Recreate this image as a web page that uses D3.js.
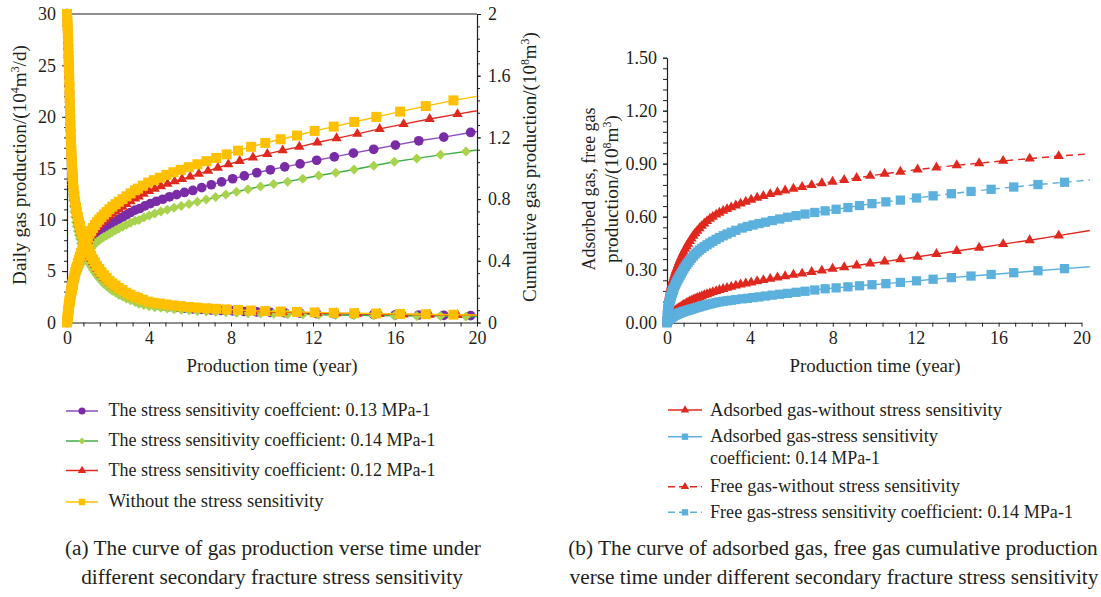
<!DOCTYPE html>
<html><head><meta charset="utf-8">
<script src="https://cdn.jsdelivr.net/npm/d3@7"></script>
<style>
body{margin:0;background:#fff}
svg{display:block}
text{font-family:"Liberation Serif","Times New Roman",serif;fill:#231f20}
</style>
</head><body>
<svg id="c" width="1101" height="597"></svg>
<script>
// ---------------- DATA ----------------
// shared early time steps (years)
const timeEarly = [0,0.01,0.02,0.03,0.04,0.05,0.06,0.07,0.08,0.09,0.10,
0.11,0.12,0.13,0.14,0.15,0.16,0.17,0.18,0.19,0.20,
0.21,0.22,0.23,0.24,0.25,0.26,0.27,0.28,0.29,0.30,
0.33,0.36,0.40,0.44,0.48,0.53,0.58,0.63,0.69,0.75,
0.81,0.88,0.95,1.02,1.10,1.18,1.27,1.36,1.46,1.57,
1.68,1.80,1.93,2.07,2.21,2.37,2.53,2.71,2.90,3.10,
3.32];
// later time steps of each case (years)
const timeLateNoStress = [3.46,3.70,3.96,4.24,4.53,4.85,5.19,5.55,5.94,6.36,6.81,7.28,7.79,8.34,8.98,9.67,10.42,11.22,12.08,13.01,14.01,15.09,16.25,17.50,18.85,20.3];
const timeLate012 = [3.50,3.74,4.00,4.28,4.58,4.90,5.25,5.61,6.01,6.43,6.88,7.36,7.87,8.42,9.07,9.77,10.52,11.33,12.21,13.15,14.16,15.25,16.42,17.69,19.05,20.5];
const timeLate013 = [3.55,3.80,4.07,4.36,4.67,5.00,5.35,5.73,6.14,6.57,7.04,7.54,8.08,8.65,9.26,9.92,10.62,11.37,12.18,13.04,13.97,14.96,16.02,17.16,18.38,19.69,21.1];
const timeLate014 = [3.51,3.75,4.01,4.28,4.58,4.89,5.22,5.57,5.95,6.36,6.79,7.25,7.75,8.27,8.83,9.44,10.08,10.76,11.50,12.28,13.11,14.00,14.96,15.97,17.06,18.22,19.46,20.8];
const timeLateGasNoStress = [3.55,3.80,4.06,4.35,4.65,4.98,5.33,5.70,6.10,6.52,6.98,7.47,7.99,8.55,9.15,9.80,10.5,11.26,12.09,13.0,13.98,15.06,16.22,17.5,18.9,20.4];
const timeLateGas014 = [3.63,3.88,4.15,4.44,4.75,5.08,5.44,5.82,6.23,6.66,7.13,7.63,8.16,8.73,9.29,9.89,10.56,11.26,12.04,12.84,13.72,14.67,15.64,16.73,17.9,19.18,20.4];

// (a) daily gas production, 10^4 m3/d
const dailyNoStress = [30,29.6,29.2,28.8,28.3,27.8,27.3,26.6,25.9,25.2,24.5,
23.7,22.9,22.1,21.3,20.5,19.8,19.2,18.5,17.9,17.3,
16.8,16.3,15.8,15.4,15.0,14.7,14.4,14.1,13.8,13.5,
12.9,12.35,11.75,11.2,10.75,10.25,9.8,9.4,8.95,8.55,
8.2,7.8,7.45,7.15,6.8,6.5,6.15,5.85,5.5,5.2,
4.9,4.6,4.35,4.05,3.8,3.6,3.35,3.15,2.9,2.7,
2.5,
2.38,2.22,2.03,1.92,1.84,1.75,1.66,1.59,1.51,1.45,1.38,1.33,1.27,1.22,1.16,1.11,1.06,1.02,0.98,0.94,0.90,0.87,0.83,0.80,0.76,0.73];
const daily012 = [30,29.5,29.0,28.5,27.95,27.4,26.9,26.2,25.5,24.8,24.1,
23.3,22.6,21.8,21.0,20.2,19.5,18.9,18.2,17.6,17.0,
16.5,16.1,15.6,15.2,14.8,14.5,14.2,13.9,13.6,13.3,
12.7,12.15,11.55,11.0,10.5,10.0,9.55,9.15,8.7,8.3,
7.95,7.55,7.2,6.88,6.53,6.23,5.89,5.59,5.25,4.95,
4.67,4.38,4.14,3.85,3.61,3.42,3.18,2.99,2.76,2.57,
2.38,
2.23,2.08,1.92,1.81,1.74,1.65,1.57,1.50,1.43,1.37,1.30,1.25,1.20,1.15,1.09,1.05,1.00,0.97,0.92,0.89,0.85,0.82,0.78,0.75,0.72,0.69];
const daily013 = [30,29.4,28.9,28.4,27.8,27.2,26.6,25.8,25.1,24.4,23.8,
23.0,22.2,21.4,20.7,19.9,19.2,18.6,17.9,17.4,16.8,
16.3,15.8,15.3,14.9,14.6,14.3,14.0,13.7,13.4,13.1,
12.45,11.9,11.3,10.75,10.3,9.8,9.35,8.95,8.5,8.1,
7.65,7.25,6.9,6.6,6.25,5.95,5.6,5.3,4.97,4.68,
4.4,4.13,3.9,3.65,3.42,3.24,3.02,2.84,2.61,2.43,
2.25,
2.09,1.94,1.80,1.70,1.62,1.54,1.47,1.40,1.33,1.28,1.22,1.17,1.13,1.07,1.03,0.98,0.95,0.91,0.87,0.85,0.81,0.78,0.75,0.73,0.70,0.67,0.64];
const daily014 = [30,29.2,28.4,27.6,26.9,26.1,25.4,24.7,24.0,23.3,22.5,
21.8,21.0,20.3,19.5,18.8,18.1,17.5,16.8,16.2,15.6,
15.1,14.6,14.2,13.8,13.4,13.1,12.8,12.5,12.2,11.9,
11.3,10.8,10.25,9.75,9.35,8.9,8.5,8.15,7.7,7.3,
6.95,6.6,6.3,6.0,5.7,5.43,5.13,4.87,4.56,4.3,
4.04,3.78,3.56,3.3,3.09,2.92,2.71,2.54,2.33,2.16,
1.99,
1.83,1.71,1.58,1.49,1.43,1.36,1.29,1.24,1.18,1.13,1.08,1.04,0.99,0.95,0.91,0.87,0.84,0.81,0.79,0.76,0.73,0.70,0.68,0.65,0.63,0.62,0.59,0.56];

// (a) cumulative gas production, 10^8 m3
const cumNoStress = [0,0.012,0.024,0.036,0.048,0.06,0.071,0.082,0.093,0.104,0.115,
0.124,0.133,0.142,0.151,0.16,0.168,0.176,0.184,0.192,0.20,
0.207,0.213,0.22,0.226,0.233,0.239,0.246,0.252,0.259,0.265,
0.283,0.301,0.325,0.344,0.362,0.386,0.407,0.427,0.451,0.472,
0.492,0.515,0.535,0.554,0.575,0.593,0.613,0.632,0.65,0.667,
0.683,0.70,0.716,0.734,0.751,0.767,0.783,0.80,0.818,0.837,
0.857,
0.868,0.887,0.907,0.923,0.939,0.957,0.974,0.99,1.007,1.026,1.046,1.067,1.09,1.114,1.139,1.164,1.188,1.212,1.242,1.27,1.30,1.333,1.367,1.403,1.44,1.473];
const cum012 = [0,0.012,0.024,0.036,0.048,0.059,0.070,0.081,0.092,0.103,0.114,
0.123,0.132,0.141,0.149,0.158,0.166,0.174,0.182,0.190,0.198,
0.205,0.211,0.217,0.223,0.230,0.236,0.242,0.248,0.255,0.261,
0.278,0.295,0.318,0.336,0.352,0.375,0.394,0.413,0.435,0.455,
0.473,0.494,0.512,0.529,0.548,0.565,0.584,0.601,0.617,0.632,
0.646,0.661,0.674,0.690,0.706,0.721,0.736,0.751,0.768,0.786,
0.804,
0.816,0.834,0.852,0.867,0.883,0.899,0.915,0.930,0.946,0.964,0.983,1.003,1.025,1.047,1.070,1.093,1.116,1.139,1.167,1.194,1.223,1.255,1.286,1.319,1.351,1.384];
const cum013 = [0,0.012,0.024,0.035,0.047,0.059,0.069,0.080,0.091,0.101,0.112,
0.121,0.129,0.138,0.147,0.155,0.163,0.171,0.178,0.186,0.194,
0.200,0.206,0.212,0.218,0.224,0.230,0.236,0.242,0.248,0.254,
0.270,0.286,0.306,0.322,0.338,0.359,0.377,0.393,0.412,0.429,
0.445,0.463,0.479,0.493,0.510,0.525,0.541,0.556,0.569,0.582,
0.593,0.606,0.617,0.631,0.644,0.657,0.670,0.684,0.698,0.713,
0.729,
0.739,0.756,0.771,0.786,0.799,0.815,0.829,0.843,0.856,0.874,0.893,0.912,0.932,0.951,0.971,0.990,1.009,1.028,1.052,1.074,1.098,1.123,1.150,1.178,1.202,1.232,1.259];
const cum014 = [0,0.012,0.023,0.035,0.046,0.058,0.068,0.079,0.089,0.100,0.110,
0.119,0.127,0.136,0.144,0.153,0.160,0.168,0.175,0.182,0.190,
0.196,0.201,0.207,0.213,0.218,0.224,0.229,0.235,0.241,0.246,
0.262,0.276,0.296,0.309,0.321,0.338,0.354,0.369,0.386,0.401,
0.415,0.430,0.442,0.454,0.469,0.482,0.497,0.510,0.523,0.534,
0.544,0.554,0.564,0.575,0.587,0.598,0.609,0.621,0.633,0.646,
0.660,
0.665,0.681,0.694,0.706,0.719,0.731,0.744,0.756,0.769,0.783,0.797,0.813,0.830,0.848,0.864,0.882,0.898,0.913,0.932,0.953,0.971,0.992,1.016,1.042,1.064,1.087,1.109,1.131];

// (b) adsorbed and free gas cumulative production, 10^8 m3
const adsorbedNoStress = [0,0.006,0.010,0.014,0.017,0.020,0.022,0.025,0.027,0.029,0.031,
0.033,0.034,0.036,0.038,0.039,0.041,0.042,0.044,0.045,0.046,
0.047,0.049,0.050,0.051,0.052,0.053,0.054,0.056,0.057,0.058,
0.061,0.064,0.068,0.071,0.075,0.079,0.083,0.087,0.091,0.096,
0.100,0.105,0.110,0.115,0.12,0.125,0.13,0.135,0.14,0.145,
0.15,0.156,0.161,0.167,0.173,0.179,0.185,0.191,0.197,0.203,
0.210,
0.216,0.222,0.228,0.235,0.241,0.248,0.256,0.263,0.271,0.278,0.287,0.295,0.305,0.314,0.324,0.335,0.346,0.359,0.373,0.389,0.406,0.424,0.445,0.467,0.493,0.522];
const adsorbed014 = [0,0.007,0.01,0.012,0.014,0.016,0.017,0.019,0.02,0.021,0.022,
0.023,0.024,0.025,0.026,0.027,0.028,0.029,0.03,0.031,0.031,
0.032,0.033,0.034,0.034,0.035,0.036,0.036,0.037,0.038,0.038,
0.04,0.042,0.044,0.046,0.048,0.051,0.053,0.056,0.058,0.061,
0.063,0.066,0.068,0.071,0.074,0.077,0.08,0.083,0.087,0.09,
0.094,0.098,0.102,0.106,0.11,0.114,0.118,0.121,0.124,0.127,
0.131,
0.135,0.138,0.142,0.146,0.151,0.156,0.161,0.166,0.172,0.178,0.185,0.192,0.197,0.203,0.209,0.215,0.221,0.228,0.237,0.246,0.255,0.264,0.273,0.283,0.294,0.306,0.317];
const freeNoStress = [0,0.045,0.064,0.078,0.09,0.10,0.11,0.119,0.127,0.135,0.142,
0.149,0.156,0.162,0.168,0.174,0.18,0.185,0.19,0.196,0.201,
0.206,0.211,0.216,0.22,0.225,0.229,0.233,0.238,0.242,0.246,
0.258,0.27,0.285,0.298,0.311,0.327,0.342,0.356,0.372,0.388,
0.402,0.418,0.433,0.447,0.462,0.477,0.492,0.506,0.52,0.535,
0.548,0.562,0.575,0.588,0.60,0.612,0.622,0.633,0.643,0.653,
0.663,
0.674,0.685,0.696,0.707,0.717,0.728,0.738,0.748,0.758,0.768,0.779,0.789,0.798,0.808,0.819,0.831,0.843,0.855,0.867,0.879,0.891,0.903,0.916,0.929,0.943,0.956];
const free014 = [0,0.034,0.048,0.059,0.068,0.076,0.083,0.09,0.096,0.102,0.107,
0.113,0.118,0.123,0.127,0.132,0.136,0.140,0.144,0.148,0.152,
0.156,0.159,0.163,0.167,0.17,0.173,0.177,0.18,0.183,0.186,
0.195,0.204,0.215,0.225,0.235,0.246,0.257,0.267,0.28,0.292,
0.304,0.317,0.329,0.341,0.353,0.365,0.377,0.389,0.40,0.411,
0.421,0.431,0.441,0.451,0.461,0.472,0.482,0.492,0.502,0.512,
0.523,
0.536,0.545,0.553,0.561,0.569,0.578,0.587,0.597,0.606,0.615,0.624,0.633,0.642,0.652,0.663,0.674,0.684,0.694,0.706,0.718,0.730,0.743,0.755,0.768,0.782,0.795,0.808];

// ticks
const timeTicks = [0,4,8,12,16,20];
const dailyTicks = [0,5,10,15,20,25,30];
const cumTicks = [0,0.4,0.8,1.2,1.6,2];
const gasTicks = [0,0.3,0.6,0.9,1.2,1.5];

const legendA = ["The stress sensitivity coeffcient: 0.13 MPa-1","The stress sensitivity coefficient: 0.14 MPa-1","The stress sensitivity coefficient: 0.12 MPa-1","Without the stress sensitivity"];
const legendB = [["Adsorbed gas-without stress sensitivity"],["Adsorbed gas-stress sensitivity","coefficient: 0.14 MPa-1"],["Free gas-without stress sensitivity"],["Free gas-stress sensitivity coefficient: 0.14 MPa-1"]];
const captionA = ["(a) The curve of gas production verse time under","different secondary fracture stress sensitivity"];
const captionB = ["(b) The curve of adsorbed gas, free gas cumulative production","verse time under different secondary fracture stress sensitivity"];

// ---------------- DRAW ----------------
const INK = "#231f20";
const svg = d3.select("#c");
function zip(times, values){
  if (times.length !== values.length) console.warn("length mismatch", times.length, values.length);
  const n = Math.min(times.length, values.length);
  return d3.range(n).map(i => ({t: times[i], v: values[i]}));
}
const symType = {circle: d3.symbolCircle, square: d3.symbolSquare, triangle: d3.symbolTriangle, diamond: d3.symbolSquare};
function symPath(shape, size){ return d3.symbol(symType[shape], size)(); }
function symTf(shape, x, y){ return `translate(${x},${y})` + (shape === "diamond" ? " rotate(45)" : ""); }
function isMult(v, m){ return Math.abs(v/m - Math.round(v/m)) < 1e-6; }
function styleAxis(g, fs){
  g.select("path.domain").attr("stroke", INK).attr("stroke-width", 1.1);
  g.selectAll(".tick line").attr("stroke", INK).attr("stroke-width", 1);
  g.selectAll(".tick text").attr("font-size", fs).attr("fill", INK);
  g.selectAll(".tick text").filter(function(){ return this.textContent === ""; }).remove();
}
const TICK_FS = 18;

// ---------- Chart (a) ----------
const A = {x0: 67, x1: 477, y0: 322.5, y1: 14};
const xA = d3.scaleLinear().domain([0, 20]).range([A.x0, A.x1]);
const yDaily = d3.scaleLinear().domain([0, 30]).range([A.y0, A.y1]);
const yCum = d3.scaleLinear().domain([0, 2]).range([A.y0, A.y1]);

svg.append("line").attr("x1", A.x0).attr("x2", A.x1).attr("y1", A.y1).attr("y2", A.y1).attr("stroke", INK).attr("stroke-width", 1.1);
const minorTime = d3.range(0, 20.0001, 0.8);
svg.append("g").attr("transform", `translate(0,${A.y0})`)
  .call(d3.axisBottom(xA).tickValues(minorTime).tickSize(4).tickSizeOuter(0).tickPadding(5)
    .tickFormat(v => isMult(v, 4) ? String(Math.round(v)) : ""))
  .call(g => styleAxis(g, TICK_FS));
svg.append("g").attr("transform", `translate(${A.x0},0)`)
  .call(d3.axisLeft(yDaily).tickValues(d3.range(0, 30.5, 1)).tickSize(3).tickSizeOuter(0).tickFormat(""))
  .call(g => styleAxis(g, TICK_FS));
svg.append("g").attr("transform", `translate(${A.x0},0)`)
  .call(d3.axisLeft(yDaily).tickValues(dailyTicks).tickSize(5).tickSizeOuter(0).tickPadding(6).tickFormat(d3.format("d")))
  .call(g => styleAxis(g, TICK_FS));
svg.append("g").attr("transform", `translate(${A.x1},0)`)
  .call(d3.axisRight(yCum).tickValues(d3.range(0, 2.0001, 0.08)).tickSize(3).tickSizeOuter(0).tickFormat(""))
  .call(g => styleAxis(g, TICK_FS));
svg.append("g").attr("transform", `translate(${A.x1},0)`)
  .call(d3.axisRight(yCum).tickValues(cumTicks).tickSize(4).tickSizeOuter(0).tickPadding(7)
    .tickFormat(v => isMult(v, 1) ? String(Math.round(v)) : d3.format(".1f")(v)))
  .call(g => styleAxis(g, TICK_FS));

svg.append("clipPath").attr("id", "clipA").append("rect")
  .attr("x", A.x0 - 30).attr("y", 0).attr("width", A.x1 - A.x0 + 30).attr("height", 345);

const seriesA = [
  {late: timeLate013, daily: daily013, cum: cum013, marker: "#7a2ca6", line: "#8c4dc2", shape: "circle", size: 74, lsize: 40},
  {late: timeLate014, daily: daily014, cum: cum014, marker: "#a9d34c", line: "#3fae49", shape: "diamond", size: 50, lsize: 24},
  {late: timeLate012, daily: daily012, cum: cum012, marker: "#e0281e", line: "#e0281e", shape: "triangle", size: 46, lsize: 30},
  {late: timeLateNoStress, daily: dailyNoStress, cum: cumNoStress, marker: "#ffc000", line: "#ffc000", shape: "square", size: 100, lsize: 42}
];
const plotA = svg.append("g").attr("clip-path", "url(#clipA)");
seriesA.forEach(s => {
  const times = timeEarly.concat(s.late);
  const dd = zip(times, s.daily), cd = zip(times, s.cum);
  const g = plotA.append("g");
  [[dd, yDaily], [cd, yCum]].forEach(([data, ys]) => {
    g.append("path").datum(data).attr("fill", "none").attr("stroke", s.line).attr("stroke-width", 1.4)
      .attr("d", d3.line().x(d => xA(d.t)).y(d => ys(d.v)));
  });
  [[dd, yDaily], [cd, yCum]].forEach(([data, ys]) => {
    g.selectAll(null).data(data).join("path")
      .attr("d", symPath(s.shape, s.size)).attr("fill", s.marker)
      .attr("transform", d => symTf(s.shape, xA(d.t), ys(d.v)));
  });
});

svg.append("text").attr("x", 272).attr("y", 372).attr("text-anchor", "middle").attr("font-size", 18.5)
  .attr("textLength", 171).attr("lengthAdjust", "spacingAndGlyphs").text("Production time (year)");

function supTitle(parent, parts, fs){
  const t = parent.append("text").attr("text-anchor", "middle").attr("font-size", fs);
  parts.forEach((p, i) => {
    const ts = t.append("tspan").text(p.s);
    if (p.sup) ts.attr("font-size", fs * 0.62).attr("dy", -fs * 0.38);
    else if (i > 0 && parts[i - 1].sup) ts.attr("dy", fs * 0.38);
  });
  return t;
}
function fitFont(t, target, fs){
  const w = t.node().getComputedTextLength();
  if (w > 0) {
    const k = target / w;
    t.attr("font-size", fs * k);
    t.selectAll("tspan").each(function(){
      const e = d3.select(this);
      const f = parseFloat(e.attr("font-size"));
      if (!isNaN(f)) e.attr("font-size", f * k);
      const dy = parseFloat(e.attr("dy"));
      if (!isNaN(dy)) e.attr("dy", dy * k);
    });
  }
}
const tLeft = supTitle(svg.append("g").attr("transform", "translate(26,165) rotate(-90)"),
  [{s: "Daily gas production/(10"}, {s: "4", sup: true}, {s: "m"}, {s: "3", sup: true}, {s: "/d)"}], 18);
fitFont(tLeft, 240, 18);
const tRight = supTitle(svg.append("g").attr("transform", "translate(536,167) rotate(-90)"),
  [{s: "Cumulative gas production/(10"}, {s: "8", sup: true}, {s: "m"}, {s: "3", sup: true}, {s: ")"}], 18);
fitFont(tRight, 270, 18);

// legend (a)
const legRowsA = [416, 446, 475.5, 507];
seriesA.forEach((s, i) => {
  const y = legRowsA[i] - 5;
  svg.append("line").attr("x1", 66).attr("x2", 98).attr("y1", y).attr("y2", y).attr("stroke", s.line).attr("stroke-width", 1.5);
  svg.append("path").attr("d", symPath(s.shape, s.lsize)).attr("fill", s.marker).attr("transform", symTf(s.shape, 82, y));
});
const legWidthsA = [322, 327, 327, 215];
legendA.forEach((txt, i) => {
  svg.append("text").attr("x", 108.5).attr("y", legRowsA[i]).attr("font-size", 18)
    .attr("textLength", legWidthsA[i]).attr("lengthAdjust", "spacingAndGlyphs").text(txt);
});

// ---------- Chart (b) ----------
const B = {x0: 667, x1: 1081.5, y0: 322.7, y1: 57.7};
const xB = d3.scaleLinear().domain([0, 20]).range([B.x0, B.x1]);
const yGas = d3.scaleLinear().domain([0, 1.5]).range([B.y0, B.y1]);
svg.append("g").attr("transform", `translate(0,${B.y0})`)
  .call(d3.axisBottom(xB).tickValues(minorTime).tickSize(4).tickSizeOuter(0).tickPadding(5)
    .tickFormat(v => isMult(v, 4) ? String(Math.round(v)) : ""))
  .call(g => styleAxis(g, TICK_FS));
svg.append("g").attr("transform", `translate(${B.x0},0)`)
  .call(d3.axisLeft(yGas).tickValues(d3.range(0, 1.5001, 0.06)).tickSize(4).tickSizeOuter(0).tickFormat(""))
  .call(g => styleAxis(g, TICK_FS));
svg.append("g").attr("transform", `translate(${B.x0},0)`)
  .call(d3.axisLeft(yGas).tickValues(gasTicks).tickSize(4).tickSizeOuter(0).tickPadding(6).tickFormat(d3.format(".2f")))
  .call(g => styleAxis(g, TICK_FS));

const seriesB = [
  {late: timeLateGasNoStress, vals: adsorbedNoStress, color: "#e0281e", shape: "triangle", size: 46, lsize: 30, dash: null},
  {late: timeLateGas014, vals: adsorbed014, color: "#5bb0dd", shape: "square", size: 86, lsize: 40, dash: null},
  {late: timeLateGasNoStress, vals: freeNoStress, color: "#e0281e", shape: "triangle", size: 46, lsize: 30, dash: "7,5"},
  {late: timeLateGas014, vals: free014, color: "#5bb0dd", shape: "square", size: 86, lsize: 40, dash: "7,5"}
];
const plotB = svg.append("g");
seriesB.forEach(s => {
  const data = zip(timeEarly.concat(s.late), s.vals);
  const g = plotB.append("g");
  g.append("path").datum(data).attr("fill", "none").attr("stroke", s.color).attr("stroke-width", 1.4)
    .attr("stroke-dasharray", s.dash).attr("d", d3.line().x(d => xB(d.t)).y(d => yGas(d.v)));
  g.selectAll(null).data(data.filter(d => d.t <= 20)).join("path")
    .attr("d", symPath(s.shape, s.size)).attr("fill", s.color)
    .attr("transform", d => symTf(s.shape, xB(d.t), yGas(d.v)));
});
svg.append("text").attr("x", 875).attr("y", 372).attr("text-anchor", "middle").attr("font-size", 18.5)
  .attr("textLength", 171).attr("lengthAdjust", "spacingAndGlyphs").text("Production time (year)");
const tB1 = svg.append("g").attr("transform", "translate(595,189) rotate(-90)").append("text")
  .attr("text-anchor", "middle").attr("font-size", 18).text("Adsorbed gas, free gas");
fitFont(tB1, 163, 18);
const tB2 = supTitle(svg.append("g").attr("transform", "translate(618,189) rotate(-90)"),
  [{s: "production/(10"}, {s: "8", sup: true}, {s: "m"}, {s: "3", sup: true}, {s: ")"}], 18);
fitFont(tB2, 148, 18);

// legend (b)
const legLineYB = [410, 436.7, 486.7, 512.3];
seriesB.forEach((s, i) => {
  const y = legLineYB[i];
  svg.append("line").attr("x1", 668).attr("x2", 702).attr("y1", y).attr("y2", y).attr("stroke", s.color)
    .attr("stroke-width", 1.5).attr("stroke-dasharray", s.dash ? "7,4" : null);
  svg.append("path").attr("d", symPath(s.shape, s.lsize)).attr("fill", s.color).attr("transform", symTf(s.shape, 685, y));
});
const legTextB = [[415.5, 292], [442, 228], [464, 170], [492, 250], [517.5, 363]];
const legLinesB = legendB.flat();
legLinesB.forEach((txt, i) => {
  svg.append("text").attr("x", 710).attr("y", legTextB[i][0]).attr("font-size", 18)
    .attr("textLength", legTextB[i][1]).attr("lengthAdjust", "spacingAndGlyphs").text(txt);
});

// captions
const capPos = [[273, 555], [272, 584], [833, 555], [834, 584]];
captionA.concat(captionB).forEach((txt, i) => {
  svg.append("text").attr("x", capPos[i][0]).attr("y", capPos[i][1]).attr("text-anchor", "middle")
    .attr("font-size", 21.3).text(txt);
});
</script>
</body></html>
